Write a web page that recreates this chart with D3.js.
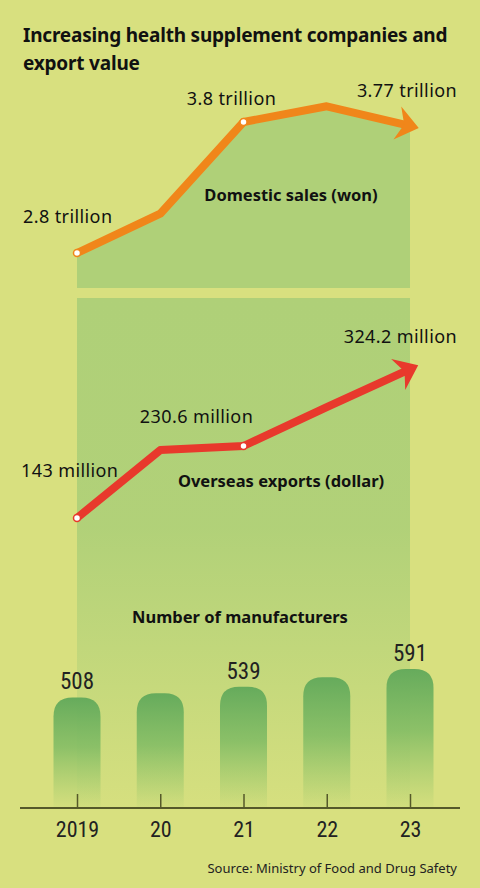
<!DOCTYPE html>
<html>
<head>
<meta charset="utf-8">
<script src="https://cdnjs.cloudflare.com/ajax/libs/d3/7.8.5/d3.min.js"></script>
<style>
  body { margin: 0; background: #d8e07f; }
  svg { display: block; }
</style>
</head>
<body>
<div id="chart"></div>
<script>
// data
const years = ["2019", "20", "21", "22", "23"]
const domesticSales = [2.8, 3.1, 3.8, 3.92, 3.77]          // trillion won
const domesticLabels = ["2.8 trillion", null, "3.8 trillion", null, "3.77 trillion"]
const overseasExports = [143, 225.7, 230.6, 278, 324.2]   // million dollars
const exportLabels = ["143 million", null, "230.6 million", null, "324.2 million"]
const manufacturers = [508, 520, 539, 567, 591]
const manufacturerLabels = ["508", null, "539", null, "591"]

const width = 480, height = 888
const BG = "#d8e07f", PANEL = "#afd078"
const ORANGE = "#f0861a", RED = "#e8392c"
const TEXT_FONT = "'Noto Sans', 'Open Sans', sans-serif"
const NUM_FONT = "'Liberation Sans Narrow', 'Roboto Condensed', 'DejaVu Sans Condensed', sans-serif"

const svg = d3.select("#chart").append("svg")
    .attr("width", width)
    .attr("height", height)

svg.append("rect").attr("width", width).attr("height", height).attr("fill", BG)

const defs = svg.append("defs")

// fading panel behind exports + bars
const panelGrad = defs.append("linearGradient")
    .attr("id", "panelGrad").attr("x1", 0).attr("y1", 0).attr("x2", 0).attr("y2", 1)
panelGrad.append("stop").attr("offset", 0).attr("stop-color", PANEL).attr("stop-opacity", 1)
panelGrad.append("stop").attr("offset", 0.45).attr("stop-color", PANEL).attr("stop-opacity", 0.95)
panelGrad.append("stop").attr("offset", 1).attr("stop-color", PANEL).attr("stop-opacity", 0.05)

const barGrad = defs.append("linearGradient")
    .attr("id", "barGrad").attr("x1", 0).attr("y1", 0).attr("x2", 0).attr("y2", 1)
barGrad.append("stop").attr("offset", 0).attr("stop-color", "#66ab5c").attr("stop-opacity", 1)
barGrad.append("stop").attr("offset", 0.45).attr("stop-color", "#7ab962").attr("stop-opacity", 0.8)
barGrad.append("stop").attr("offset", 1).attr("stop-color", "#8cc266").attr("stop-opacity", 0.05)

// arrow heads
function addArrow(id, color) {
    defs.append("marker")
        .attr("id", id)
        .attr("viewBox", "-26 -20 28 40")
        .attr("refX", -9).attr("refY", 0)
        .attr("markerWidth", 28).attr("markerHeight", 40)
        .attr("markerUnits", "userSpaceOnUse")
        .attr("orient", "auto")
        .append("path")
        .attr("d", "M0,0 L-22,-17 L-15,0 L-22,17 Z")
        .attr("fill", color)
}
addArrow("arrowOrange", ORANGE)
addArrow("arrowRed", RED)

/* SCALES */
const x = d3.scalePoint().domain(years).range([77, 410])
const yDomestic = d3.scaleLinear().domain([2.8, 3.8]).range([253, 122])
const yExport = d3.scaleLinear().domain([143, 230.6]).range([518, 446])
const yBars = d3.scaleLinear().domain([185, 591]).range([808, 669])

/* TITLE */
const title = svg.append("text")
    .attr("x", 23)
    .attr("font-family", TEXT_FONT)
    .attr("font-weight", "bold")
    .attr("font-size", 19)
    .attr("letter-spacing", -0.2)
    .attr("fill", "#111")
title.append("tspan").attr("x", 23).attr("y", 42).text("Increasing health supplement companies and")
title.append("tspan").attr("x", 23).attr("y", 70).text("export value")

/* DOMESTIC SALES */
const domesticArea = d3.area()
    .x((d, i) => x(years[i]))
    .y0(288)
    .y1(d => yDomestic(d))

svg.append("path")
    .datum(domesticSales)
    .attr("d", domesticArea)
    .attr("fill", PANEL)

/* EXPORT + BAR PANEL */
svg.append("rect")
    .attr("x", x(years[0]))
    .attr("y", 298)
    .attr("width", x(years[years.length - 1]) - x(years[0]))
    .attr("height", yBars.range()[0] - 298)
    .attr("fill", "url(#panelGrad)")

function drawLine(values, yScale, color, marker) {
    const line = d3.line()
        .x((d, i) => x(years[i]))
        .y(d => yScale(d))

    svg.append("path")
        .datum(values)
        .attr("d", line)
        .attr("fill", "none")
        .attr("stroke", color)
        .attr("stroke-width", 8)
        .attr("stroke-linejoin", "round")
        .attr("marker-end", "url(#" + marker + ")")

    // white dots on labelled points (not the arrow end)
    svg.selectAll(null)
        .data(values.map((v, i) => ({ v, i })).filter(d => d.i === 0 || d.i === 2))
        .enter().append("circle")
        .attr("cx", d => x(years[d.i]))
        .attr("cy", d => yScale(d.v))
        .attr("r", 3.5)
        .attr("fill", "#fff")
        .attr("stroke", color)
        .attr("stroke-width", 1.5)
}

drawLine(domesticSales, yDomestic, ORANGE, "arrowOrange")
drawLine(overseasExports, yExport, RED, "arrowRed")

// value labels
function valueLabel(txt, lx, ly, anchor) {
    svg.append("text")
        .attr("x", lx).attr("y", ly)
        .attr("text-anchor", anchor || "start")
        .attr("font-family", TEXT_FONT)
        .attr("font-size", 18)
        .attr("letter-spacing", 0.4)
        .attr("fill", "#111")
        .text(txt)
}

// domestic labels: 2019 left of point, 2021 above, 2023 right-aligned
valueLabel(domesticLabels[0], 23, yDomestic(domesticSales[0]) - 30)
valueLabel(domesticLabels[2], x(years[2]) - 12, yDomestic(domesticSales[2]) - 17, "middle")
valueLabel(domesticLabels[4], 457, yDomestic(domesticSales[4]) - 29, "end")

valueLabel(exportLabels[0], 21, yExport(overseasExports[0]) - 41)
valueLabel(exportLabels[2], x(years[2]) - 47, yExport(overseasExports[2]) - 23, "middle")
valueLabel(exportLabels[4], 457, yExport(overseasExports[4]) - 26, "end")

function seriesTitle(txt, cx, cy) {
    svg.append("text")
        .attr("x", cx).attr("y", cy)
        .attr("text-anchor", "middle")
        .attr("font-family", TEXT_FONT)
        .attr("font-weight", "bold")
        .attr("font-size", 16.5)
        .attr("fill", "#111")
        .text(txt)
}
seriesTitle("Domestic sales (won)", 291, 201)
seriesTitle("Overseas exports (dollar)", 281, 487)
seriesTitle("Number of manufacturers", 240, 623)

/* MANUFACTURERS BARS */
const barW = 47, r = 19
svg.selectAll("path.bar")
    .data(manufacturers)
    .enter().append("path")
    .attr("class", "bar")
    .attr("d", (d, i) => {
        const x0 = x(years[i]) - barW / 2, x1 = x0 + barW
        const top = yBars(d), bottom = yBars.range()[0]
        return `M${x0},${bottom} V${top + r} Q${x0},${top} ${x0 + r},${top} H${x1 - r} Q${x1},${top} ${x1},${top + r} V${bottom} Z`
    })
    .attr("fill", "url(#barGrad)")

svg.selectAll("text.barLabel")
    .data(manufacturers.map((v, i) => ({ v, i })).filter(d => manufacturerLabels[d.i]))
    .enter().append("text")
    .attr("class", "barLabel")
    .attr("x", d => x(years[d.i]))
    .attr("y", d => yBars(d.v) - 8)
    .attr("text-anchor", "middle")
    .attr("font-family", NUM_FONT)
    .attr("font-size", 23)
    .attr("fill", "#222")
    .text(d => manufacturerLabels[d.i])

/* X AXIS */
svg.append("line")
    .attr("x1", 20).attr("x2", 460)
    .attr("y1", yBars.range()[0]).attr("y2", yBars.range()[0])
    .attr("stroke", "#55592a")
    .attr("stroke-width", 2)

const xAxis = svg.append("g")
    .attr("transform", "translate(0," + yBars.range()[0] + ")")
    .call(d3.axisBottom(x).tickSize(-14).tickPadding(13))

xAxis.select(".domain").remove()
xAxis.selectAll(".tick line").attr("stroke", "#55592a").attr("stroke-width", 1.5)
xAxis.selectAll(".tick text")
    .attr("font-family", NUM_FONT)
    .attr("font-size", 22)
    .attr("fill", "#222")

/* SOURCE */
svg.append("text")
    .attr("x", 457).attr("y", 873)
    .attr("text-anchor", "end")
    .attr("font-family", TEXT_FONT)
    .attr("font-size", 13)
    .attr("fill", "#222")
    .text("Source: Ministry of Food and Drug Safety")
</script>
</body>
</html>
